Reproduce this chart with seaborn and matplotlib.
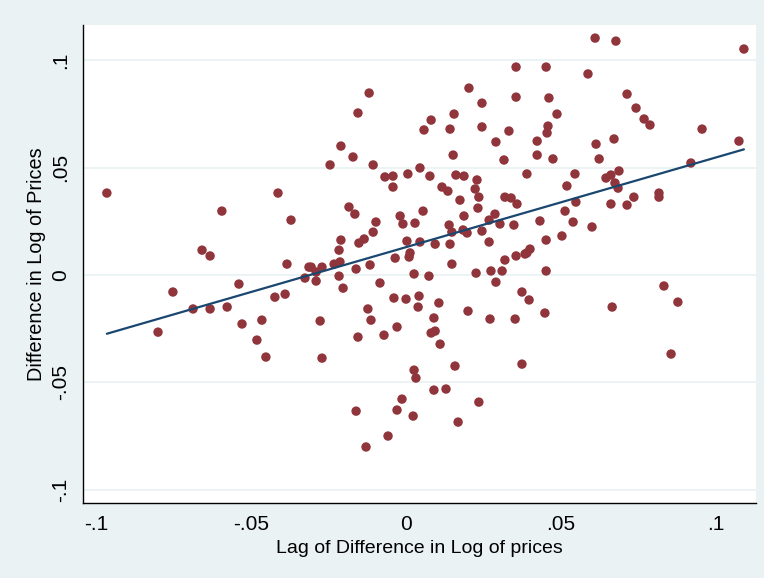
import numpy as np
import pandas as pd
import seaborn as sns
import matplotlib.pyplot as plt

# Lag of difference in log of prices (x) and difference in log of prices (y)
lag_diff = [
    -0.0965, -0.0413, -0.0594, -0.0371, -0.0658, -0.0632, -0.0384, -0.0313, -0.0326, -0.0752,
    -0.0539, -0.0687, -0.0632, -0.0577, -0.0423, -0.0390, -0.0800, -0.0529, -0.0465, -0.0481,
    -0.0452,
    0.0355, 0.0355, -0.0119, -0.0155, 0.0203, 0.0245, 0.0155, 0.0081, 0.0058, 0.0142,
    0.0245, 0.0332, 0.0290, 0.0316, -0.0210, -0.0171, -0.0245, -0.0106, 0.0152, 0.0045,
    0.0006, -0.0068, -0.0042, -0.0042, 0.0077, 0.0161, 0.0187, 0.0229, 0.0116, 0.0135,
    0.0223, 0.0390, 0.0174, 0.0235, 0.0232, 0.0319, 0.0339, 0.0358, -0.0184, -0.0165,
    0.0055, -0.0019, -0.0010, -0.0097, 0.0029, -0.0106, 0.0187, 0.0287, 0.0268, 0.0303,
    0.0348, 0.0139, 0.0148, 0.0184, 0.0197, 0.0245, -0.0210, -0.0135, -0.0152, -0.0216,
    0.0003, 0.0045, 0.0094, 0.0142, 0.0268, -0.0232, -0.0213, -0.0035, 0.0013, 0.0010,
    -0.0116, -0.0306, -0.0271, -0.0161, 0.0148, 0.0319, 0.0355, 0.0390,
    0.0610, 0.0677, 0.1090, 0.0452, 0.0587, 0.0713, 0.0461, 0.0742, 0.0487, 0.0768,
    0.0787, 0.0458, 0.0455, 0.0955, 0.1074, 0.0423, 0.0613, 0.0671, 0.0423, 0.0474,
    0.0623, 0.0919, 0.0545, 0.0687, 0.0645, 0.0661, 0.0674, 0.0684, 0.0519, 0.0735,
    0.0816, 0.0816, 0.0548, 0.0661, 0.0713, 0.0513, 0.0432, 0.0539, 0.0600, 0.0452,
    0.0503, 0.0400, 0.0384,
    0.0452, 0.0374, 0.0397, 0.0448, 0.0665, 0.0832, 0.0877, 0.0855, 0.0374,
    -0.0290, -0.0290, -0.0216, -0.0203, 0.0026, 0.0074, -0.0084, 0.0226, 0.0274, 0.0310,
    0.0290, -0.0039, 0.0000, 0.0042, 0.0039, 0.0106, -0.0123, -0.0113, -0.0277, 0.0090,
    0.0200, 0.0271, 0.0352, -0.0029, -0.0071, -0.0155, 0.0081, 0.0094, 0.0110, -0.0271,
    0.0158, 0.0026, 0.0032, 0.0090, 0.0129, 0.0235, -0.0013, -0.0029, -0.0161, 0.0023,
    0.0168, -0.0058, -0.0129,
]
diff_log = [
    0.0382, 0.0382, 0.0298, 0.0256, 0.0116, 0.0089, 0.0051, 0.0037, -0.0014, -0.0079,
    -0.0042, -0.0158, -0.0158, -0.0149, -0.0103, -0.0089, -0.0266, -0.0228, -0.0210, -0.0303,
    -0.0382,
    0.0969, 0.0829, 0.0848, 0.0755, 0.0871, 0.0801, 0.0750, 0.0722, 0.0676, 0.0680,
    0.0690, 0.0671, 0.0620, 0.0536, 0.0601, 0.0550, 0.0513, 0.0513, 0.0559, 0.0499,
    0.0471, 0.0457, 0.0461, 0.0410, 0.0461, 0.0466, 0.0461, 0.0443, 0.0410, 0.0391,
    0.0401, 0.0471, 0.0349, 0.0363, 0.0312, 0.0363, 0.0359, 0.0331, 0.0317, 0.0284,
    0.0298, 0.0275, 0.0238, 0.0247, 0.0242, 0.0200, 0.0275, 0.0284, 0.0256, 0.0238,
    0.0233, 0.0233, 0.0200, 0.0210, 0.0196, 0.0205, 0.0163, 0.0168, 0.0149, 0.0116,
    0.0158, 0.0154, 0.0144, 0.0144, 0.0154, 0.0051, 0.0061, 0.0079, 0.0103, 0.0084,
    0.0047, 0.0037, 0.0037, 0.0028, 0.0051, 0.0070, 0.0089, 0.0103,
    0.1104, 0.1090, 0.1053, 0.0969, 0.0937, 0.0843, 0.0825, 0.0778, 0.0750, 0.0727,
    0.0699, 0.0694, 0.0662, 0.0680, 0.0624, 0.0624, 0.0610, 0.0634, 0.0559, 0.0541,
    0.0541, 0.0522, 0.0471, 0.0485, 0.0452, 0.0466, 0.0429, 0.0405, 0.0415, 0.0363,
    0.0382, 0.0363, 0.0340, 0.0331, 0.0326, 0.0298, 0.0252, 0.0247, 0.0224, 0.0163,
    0.0182, 0.0121, 0.0098,
    0.0019, -0.0079, -0.0116, -0.0177, -0.0149, -0.0051, -0.0126, -0.0368, -0.0415,
    0.0014, -0.0028, -0.0005, -0.0061, 0.0005, -0.0005, -0.0037, 0.0009, 0.0019, 0.0019,
    -0.0033, -0.0107, -0.0112, -0.0098, -0.0149, -0.0130, -0.0158, -0.0210, -0.0214, -0.0200,
    -0.0168, -0.0205, -0.0205, -0.0242, -0.0280, -0.0289, -0.0270, -0.0261, -0.0322, -0.0387,
    -0.0424, -0.0443, -0.0480, -0.0536, -0.0531, -0.0592, -0.0578, -0.0629, -0.0634, -0.0657,
    -0.0685, -0.0750, -0.0801,
]

x_ticks = [-0.1, -0.05, 0.0, 0.05, 0.1]
x_tick_labels = ["-.1", "-.05", "0", ".05", ".1"]
y_ticks = [-0.1, -0.05, 0.0, 0.05, 0.1]
y_tick_labels = ["-.1", "-.05", "0", ".05", ".1"]

df = pd.DataFrame({"lag": lag_diff, "diff": diff_log})

sns.set_theme(style="white")
plt.rcParams['font.family'] = ['Liberation Sans', 'DejaVu Sans']

bg = '#EAF2F3'
fig = plt.figure(figsize=(7.64, 5.78), dpi=100, facecolor=bg)
ax = fig.add_axes([83 / 764, 75 / 578, (756 - 83) / 764, (503 - 25) / 578])
ax.set_facecolor('white')

sns.regplot(data=df, x="lag", y="diff", ci=None, ax=ax, truncate=True,
            scatter_kws=dict(s=46, color='#90353B', edgecolor='none', alpha=1, zorder=3),
            line_kws=dict(color='#1A476F', lw=1.6, zorder=4))

ax.set_xlim(-0.1042, 0.1129)
ax.set_ylim(-0.1062, 0.1165)
ax.set_xticks(x_ticks)
ax.set_xticklabels(x_tick_labels)
ax.set_yticks(y_ticks)
ax.set_yticklabels(y_tick_labels, rotation=90, va='center')

ax.yaxis.grid(True, color=bg, lw=1.3, zorder=0)
ax.xaxis.grid(False)
ax.set_axisbelow(True)
for s in ['top', 'right']:
    ax.spines[s].set_visible(False)
for s in ['left', 'bottom']:
    ax.spines[s].set_color('black')
    ax.spines[s].set_linewidth(1.0)

ax.tick_params(axis='both', direction='out', length=6, width=1, color='black',
               labelsize=15, labelcolor='black', pad=3)
ax.set_xlabel("Lag of Difference in Log of prices", fontsize=14, color='black', labelpad=4)
ax.set_ylabel("Difference in Log of Prices", fontsize=14.3, color='black', labelpad=4)

fig.savefig("out.png", dpi=100, facecolor=bg)
